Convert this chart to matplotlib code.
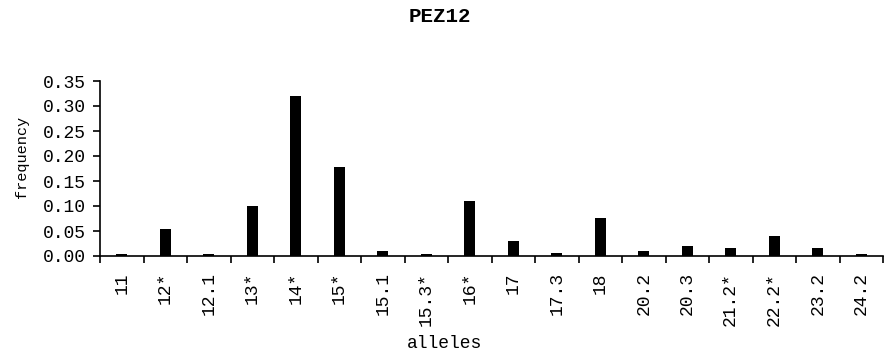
import matplotlib
matplotlib.use("Agg")
import matplotlib.pyplot as plt
import numpy as np

alleles = ["11", "12*", "12.1", "13*", "14*", "15*", "15.1", "15.3*", "16*", "17",
           "17.3", "18", "20.2", "20.3", "21.2*", "22.2*", "23.2", "24.2"]
frequency = [0.004, 0.054, 0.004, 0.100, 0.321, 0.179, 0.011, 0.004, 0.110, 0.031,
             0.007, 0.077, 0.011, 0.021, 0.017, 0.041, 0.017, 0.004]
yticks = [0.00, 0.05, 0.10, 0.15, 0.20, 0.25, 0.30, 0.35]

plt.rcParams['font.family'] = ['Liberation Mono', 'DejaVu Sans Mono']

W, H = 884, 355
fig = plt.figure(figsize=(W / 100, H / 100), dpi=100)
ax = fig.add_axes([100 / W, 1 - 256 / H, 783 / W, 175 / H])

x = np.arange(len(alleles))
ax.bar(x, frequency, width=0.26, color='black')
ax.set_xlim(-0.5, len(alleles) - 0.5)
ax.set_ylim(0, 0.35)
ax.set_yticks(yticks)
ax.set_yticklabels([f"{v:.2f}" for v in yticks], fontsize=13)
ax.set_xticks(x)
ax.set_xticklabels([])
ax.set_xticks(np.arange(len(alleles) + 1) - 0.5, minor=True)
ax.tick_params(axis='x', which='major', length=0)
ax.tick_params(axis='x', which='minor', length=5, width=1.2, direction='out')
ax.tick_params(axis='y', length=5, width=1.2, direction='out', pad=5)
for i, lab in enumerate(alleles):
    ax.text(i, -0.032, lab, rotation=90, ha='center', va='top', fontsize=13,
            transform=ax.transData, clip_on=False)
for s in ['top', 'right']:
    ax.spines[s].set_visible(False)
for s in ['left', 'bottom']:
    ax.spines[s].set_linewidth(1.2)

fig.text(440 / W, 1 - 16 / H, "PEZ12", ha='center', va='center', fontsize=15, fontweight='bold')
fig.text(445 / W, 1 - 344 / H, "alleles", ha='center', va='center', fontsize=13)
fig.text(22 / W, 1 - 157 / H, "frequency", ha='center', va='center', fontsize=11, rotation=90)

fig.savefig("out.png", dpi=100)
